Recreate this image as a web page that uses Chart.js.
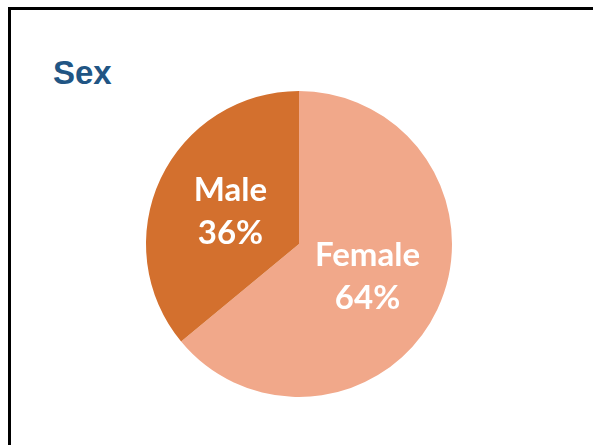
<!DOCTYPE html>
<html>
<head>
<meta charset="utf-8">
<script src="https://cdn.jsdelivr.net/npm/chart.js@4"></script>
<style>
  html, body { margin: 0; padding: 0; background: #fff; overflow: hidden; }
  body { width: 593px; height: 445px; position: relative; }
  .frame { position: absolute; left: 8px; top: 7px; width: 640px; height: 480px; border: 3px solid #000; box-sizing: border-box; }
  .title { position: absolute; left: 53px; top: 54px; font: bold 33px "Liberation Sans", Arial, sans-serif; color: #215584; }
  .wrap { position: absolute; left: 0; top: 0; width: 593px; height: 445px; }
</style>
</head>
<body>
<div class="frame"></div>
<div class="title">Sex</div>
<div class="wrap"><canvas id="pie"></canvas></div>
<script>
const categories = ['Female', 'Male'];
const shares = [64, 36];
const sliceColors = ['#F1A88A', '#D3702E'];

// draws "Name" + "NN%" on top of every slice
const sliceLabels = {
  id: 'sliceLabels',
  afterDatasetsDraw(chart) {
    const ctx = chart.ctx;
    const meta = chart.getDatasetMeta(0);
    ctx.save();
    ctx.fillStyle = '#fff';
    ctx.font = 'bold 33px Lato, "Open Sans", sans-serif';
    ctx.textAlign = 'center';
    ctx.textBaseline = 'middle';
    meta.data.forEach((arc, i) => {
      const p = arc.getProps(['x', 'y', 'startAngle', 'endAngle', 'outerRadius'], true);
      const mid = (p.startAngle + p.endAngle) / 2;
      const r = p.outerRadius * 0.495;
      const cx = p.x + Math.cos(mid) * r;
      const cy = p.y + Math.sin(mid) * r;
      ctx.fillText(categories[i], cx, cy - 21);
      ctx.fillText(shares[i] + '%', cx, cy + 22);
    });
    ctx.restore();
  }
};

new Chart(document.getElementById('pie'), {
  type: 'pie',
  data: {
    labels: categories,
    datasets: [{
      data: shares,
      backgroundColor: sliceColors,
      borderWidth: 0
    }]
  },
  options: {
    responsive: true,
    maintainAspectRatio: false,
    animation: false,
    events: [],
    layout: { padding: { left: 146, right: 141, top: 91, bottom: 48 } },
    plugins: {
      legend: { display: false },
      tooltip: { enabled: false },
      title: { display: false }
    }
  },
  plugins: [sliceLabels]
});
</script>
</body>
</html>
